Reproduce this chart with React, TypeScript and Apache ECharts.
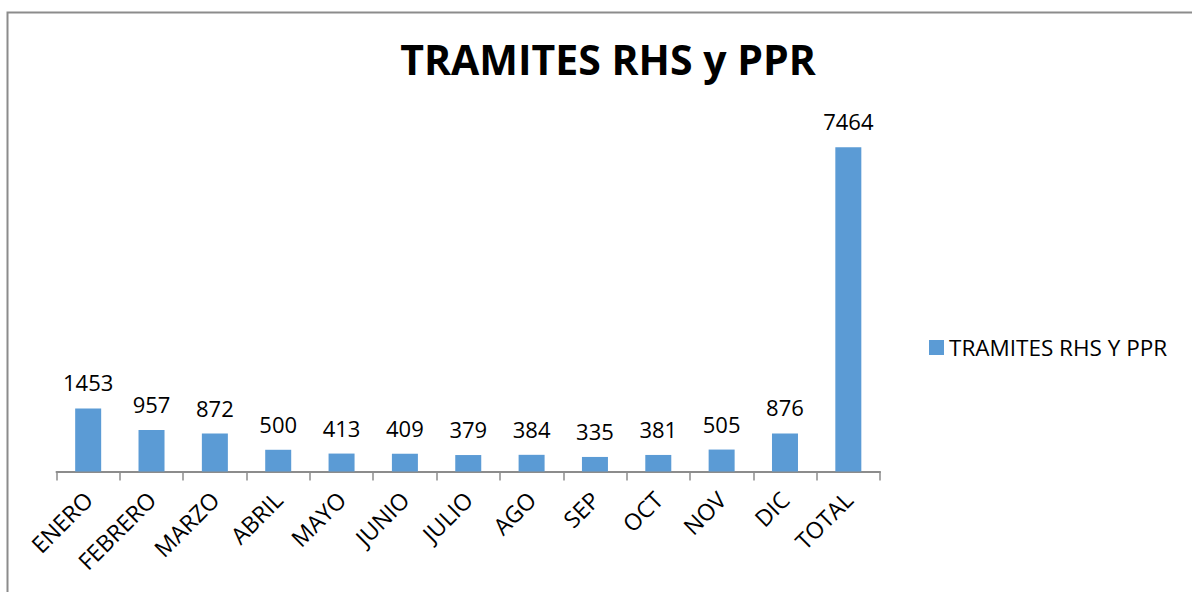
import React, { useEffect, useRef } from "react";
import * as echarts from "echarts";

const categories = ["ENERO", "FEBRERO", "MARZO", "ABRIL", "MAYO", "JUNIO", "JULIO", "AGO", "SEP", "OCT", "NOV", "DIC", "TOTAL"];
const values = [1453, 957, 872, 500, 413, 409, 379, 384, 335, 381, 505, 876, 7464];
const seriesName = "TRAMITES RHS Y PPR";
const titleText = "TRAMITES RHS y PPR";

const FONT = "'Open Sans', 'Liberation Sans', sans-serif";

export default function App() {
  const ref = useRef<HTMLDivElement>(null);
  useEffect(() => {
    document.body.style.margin = "0";
    const chart = echarts.init(ref.current!, null, { renderer: "svg" });
    chart.setOption({
      animation: false,
      backgroundColor: "#ffffff",
      title: {
        text: titleText,
        left: 603,
        textAlign: "center",
        top: 33,
        textStyle: { fontFamily: FONT, fontSize: 41, fontWeight: "bold", color: "#000" },
      },
      legend: {
        data: [seriesName],
        left: 924,
        top: 331,
        itemWidth: 15,
        itemHeight: 15,
        itemGap: 6,
        icon: "rect",
        textStyle: { fontFamily: FONT, fontSize: 22.5, color: "#000" },
      },
      grid: { left: 56.5, right: 312, top: 124, bottom: 120.5, containLabel: false },
      xAxis: {
        type: "category",
        data: categories,
        axisLine: { show: true, lineStyle: { color: "#8c8c8c", width: 2 } },
        axisTick: { show: true, alignWithLabel: false, length: 9, lineStyle: { color: "#8c8c8c", width: 1.5 } },
        axisLabel: { rotate: 45, fontFamily: FONT, fontSize: 23, color: "#000", margin: 24 },
      },
      yAxis: {
        type: "value",
        min: 0,
        max: 8000,
        show: false,
        splitLine: { show: false },
      },
      series: [
        {
          name: seriesName,
          type: "bar",
          data: values,
          barWidth: 26,
          itemStyle: { color: "#5b9bd5" },
          label: {
            show: true,
            position: "top",
            distance: 15,
            fontFamily: FONT,
            fontSize: 22,
            color: "#000",
          },
        },
      ],
      graphic: [
        {
          type: "rect",
          shape: { x: 7.5, y: 12.5, width: 1200, height: 600 },
          style: { fill: "none", stroke: "#8c8c8c", lineWidth: 2 },
          silent: true,
        },
      ],
    });
    return () => chart.dispose();
  }, []);
  return <div ref={ref} style={{ width: 1192, height: 592 }} />;
}
